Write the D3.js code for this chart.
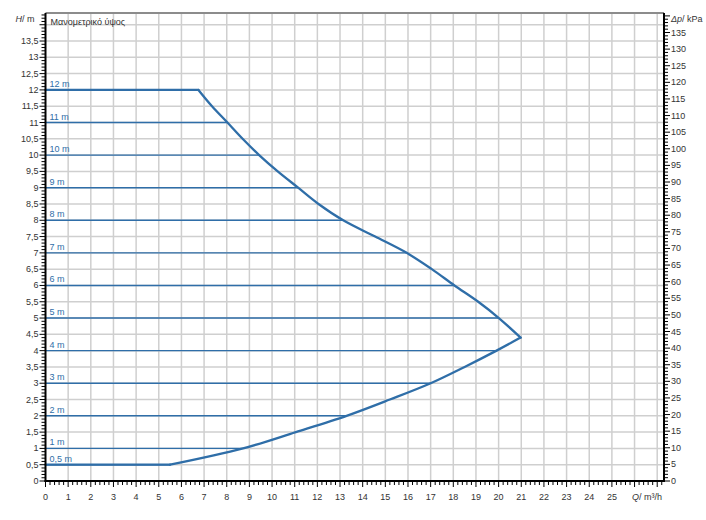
<!DOCTYPE html>
<html><head><meta charset="utf-8">
<script src="https://cdn.jsdelivr.net/npm/d3@7"></script>
<style>body{margin:0;background:#fff}svg{display:block;font-family:"Liberation Sans",Arial,sans-serif}</style>
</head><body><svg id="c" width="706" height="520"></svg>
<script>
// Pump curve envelope (Q m3/h, H m)
const upperQ = [0, 6.75, 7.35, 8.03, 8.7, 9.43, 10.25, 11.15, 12.05, 13.14, 14.55, 15.94, 17.05, 18.05, 19.1, 20.01, 20.97];
const upperH = [12, 12, 11.5, 11, 10.5, 10, 9.5, 9, 8.5, 8, 7.5, 7, 6.5, 6, 5.5, 5, 4.4];
const lowerQ = [20.97, 19.91, 18.5, 17.0, 15.2, 13.29, 11.05, 8.72, 5.5, 0];
const lowerH = [4.4, 4, 3.5, 3, 2.5, 2, 1.5, 1, 0.5, 0.5];
// constant-head lines
const levelH = [12, 11, 10, 9, 8, 7, 6, 5, 4, 3, 2, 1, 0.5];
const levelQ = [6.75, 8.03, 9.43, 11.15, 13.14, 15.94, 18.05, 20.01, 19.91, 17.0, 13.29, 8.72, 5.5];
const levelLabels = ["12 m","11 m","10 m","9 m","8 m","7 m","6 m","5 m","4 m","3 m","2 m","1 m","0,5 m"];
const xTicks = d3.range(0, 26);
const yTicks = d3.range(0, 13.51, 0.5);
const kpaTicks = d3.range(0, 136, 5);

const svg = d3.select("#c");
const x = d3.scaleLinear().domain([0, 27.3]).range([45.5, 664]);
const y = d3.scaleLinear().domain([0, 14.36]).range([481, 13]);
const yK = d3.scaleLinear().domain([0, 14.36 * 9.81]).range([481, 13]);
const fmt = v => String(v).replace(".", ",");
const blue = "#2f6ea8";

// grid
const g = svg.append("g");
g.selectAll("line.v").data(d3.range(1, 28)).join("line")
  .attr("x1", d => x(d)).attr("x2", d => x(d)).attr("y1", y(14.36)).attr("y2", y(0))
  .attr("stroke", "#cfcfcf").attr("stroke-width", 1.5);
g.selectAll("line.h").data(d3.range(0.5, 14.01, 0.5)).join("line")
  .attr("x1", x(0)).attr("x2", x(27.3)).attr("y1", d => y(d)).attr("y2", d => y(d))
  .attr("stroke", "#cfcfcf").attr("stroke-width", 1.5);
svg.append("line").attr("x1", x(0)).attr("x2", x(27.3)).attr("y1", y(14.36)).attr("y2", y(14.36))
  .attr("stroke", "#8c8c8c").attr("stroke-width", 2);

// level lines
const lv = svg.append("g");
levelH.forEach((h, i) => {
  lv.append("line").attr("x1", x(0)).attr("x2", x(levelQ[i])).attr("y1", y(h)).attr("y2", y(h))
    .attr("stroke", blue).attr("stroke-width", 1.4);
  lv.append("text").attr("x", x(0) + 4).attr("y", y(h) - 3).attr("font-size", 9)
    .attr("fill", blue).text(levelLabels[i]);
});

// curve: straight plateaus, smooth flanks
const up = upperQ.map((q, i) => [q, upperH[i]]);
const lo = lowerQ.map((q, i) => [q, lowerH[i]]);
const lin = d3.line().x(d => x(d[0])).y(d => y(d[1]));
const smooth = d3.line().x(d => x(d[0])).y(d => y(d[1])).curve(d3.curveCatmullRom.alpha(0.5));
const cs = {fill: "none", stroke: blue, sw: 2.3};
[lin(up.slice(0, 2)), smooth(up.slice(1)), smooth(lo.slice(0, lo.length - 1)), lin(lo.slice(-2))].forEach(d => {
  svg.append("path").attr("d", d).attr("fill", "none").attr("stroke", blue)
    .attr("stroke-width", 2.3).attr("stroke-linejoin", "round").attr("stroke-linecap", "round");
});

// left axis
const ax = svg.append("g");
d3.range(0, 144).forEach(k => {
  const v = k / 10, major = k % 5 === 0;
  ax.append("line").attr("x1", x(0) - (major ? 6 : 4)).attr("x2", x(0)).attr("y1", y(v)).attr("y2", y(v))
    .attr("stroke", "#000").attr("stroke-width", 1);
});
ax.selectAll("text.yl").data(yTicks).join("text").attr("x", x(0) - 7).attr("y", d => y(d) + 3)
  .attr("text-anchor", "end").attr("font-size", 9).attr("fill", "#333").text(d => fmt(d));
ax.append("line").attr("x1", x(0)).attr("x2", x(0)).attr("y1", y(14.36)).attr("y2", y(0) + 1)
  .attr("stroke", "#000").attr("stroke-width", 2);
ax.append("text").attr("x", x(0) - 11).attr("y", 22).attr("text-anchor", "end").attr("font-size", 9).attr("fill", "#333")
  .html('<tspan font-style="italic">H</tspan>/ m');
svg.append("text").attr("x", x(0) + 5).attr("y", 25).attr("font-size", 9).attr("fill", "#333").text("Μανομετρικό ύψος");

// bottom axis
d3.range(0, 137).forEach(k => {
  const v = k / 5, major = k % 5 === 0;
  ax.append("line").attr("x1", x(v)).attr("x2", x(v)).attr("y1", y(0)).attr("y2", y(0) + (major ? 6 : 4))
    .attr("stroke", "#000").attr("stroke-width", 1);
});
ax.selectAll("text.xl").data(xTicks).join("text").attr("x", d => x(d)).attr("y", 500)
  .attr("text-anchor", "middle").attr("font-size", 9).attr("fill", "#333").text(d => d);
ax.append("text").attr("x", x(26.55)).attr("y", 500).attr("text-anchor", "middle").attr("font-size", 9).attr("fill", "#333")
  .html('<tspan font-style="italic">Q</tspan>/ m³/h');
ax.append("line").attr("x1", x(0) - 1).attr("x2", x(27.3) + 1).attr("y1", y(0)).attr("y2", y(0))
  .attr("stroke", "#000").attr("stroke-width", 2);

// right axis
d3.range(0, 141).forEach(k => {
  const major = k % 5 === 0;
  ax.append("line").attr("x1", x(27.3)).attr("x2", x(27.3) + (major ? 6 : 4)).attr("y1", yK(k)).attr("y2", yK(k))
    .attr("stroke", "#000").attr("stroke-width", 1);
});
ax.selectAll("text.kl").data(kpaTicks).join("text").attr("x", x(27.3) + 7).attr("y", d => yK(d) + 3)
  .attr("font-size", 9).attr("fill", "#333").text(d => d);
ax.append("line").attr("x1", x(27.3)).attr("x2", x(27.3)).attr("y1", y(14.36)).attr("y2", y(0) + 1)
  .attr("stroke", "#000").attr("stroke-width", 2);
ax.append("text").attr("x", x(27.3) + 7).attr("y", 22).attr("font-size", 9).attr("fill", "#333")
  .html('<tspan font-style="italic">Δp</tspan>/ kPa');
</script></body></html>
